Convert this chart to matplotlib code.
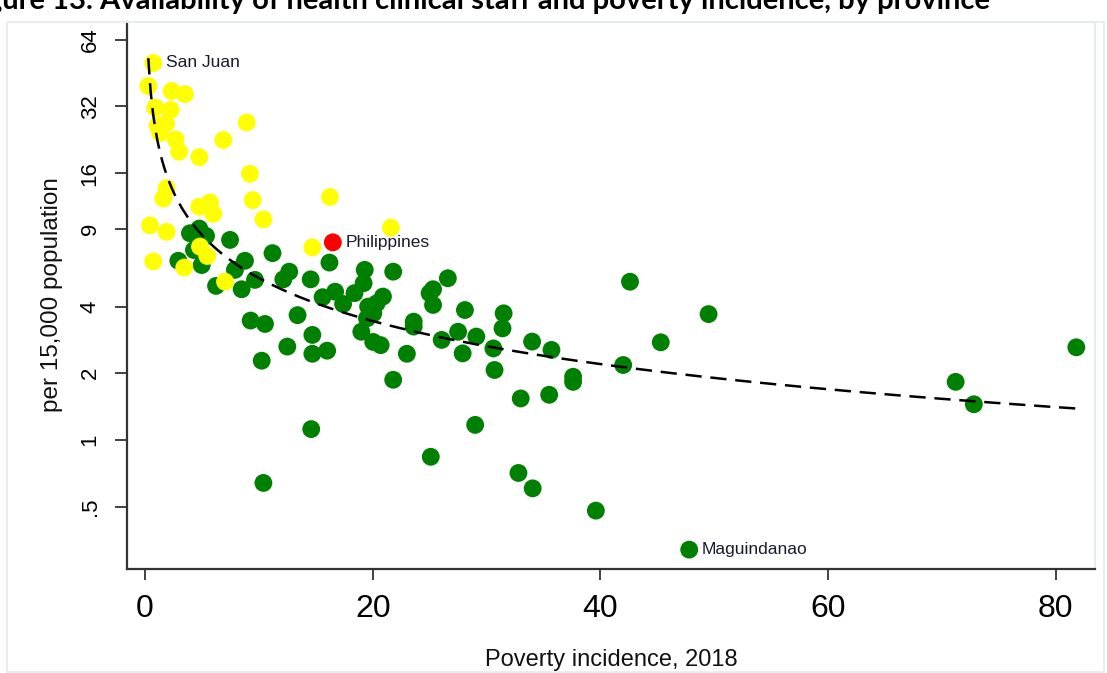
import numpy as np
import matplotlib
matplotlib.use("Agg")
import matplotlib.pyplot as plt
from matplotlib.patches import Rectangle

# ---------------- data ----------------
yellow_x = [0.73, 0.29, 2.34, 3.51, 0.9, 2.25, 1.1, 1.85, 1.32, 2.7, 3.0, 4.77, 6.88, 8.93,
            9.22, 1.9, 1.61, 4.77, 5.71, 6.0, 9.46, 10.4, 16.25, 0.44, 1.9, 21.6, 0.73,
            3.45, 4.83, 5.47, 7.03, 14.7]
yellow_y = [50.3, 39.6, 37.6, 36.4, 31.6, 30.9, 26.2, 26.8, 24.3, 22.7, 20.0, 18.9, 22.6, 27.1,
            15.9, 13.7, 12.3, 11.3, 11.8, 10.5, 12.1, 9.9, 12.5, 9.3, 8.7, 9.1, 6.4,
            6.0, 7.46, 6.77, 5.18, 7.4]

green_x = [3.95, 4.77, 5.36, 4.3, 4.98, 2.93, 7.47, 6.24, 8.78, 7.9, 8.49, 9.66, 11.2, 9.28,
           10.54, 10.25, 12.15, 12.67, 12.5, 13.4, 14.55, 14.7, 14.7, 16.0, 14.6, 10.4, 16.2,
           15.6, 16.7, 17.4, 18.4, 19.2, 19.3, 21.8, 19.6, 20.35, 20.9, 20.05, 19.5, 19.0,
           20.05, 20.7, 21.8, 23.0, 23.6, 26.6, 25.0, 25.3, 25.3, 28.1, 23.6, 26.06, 27.5,
           27.9, 29.1, 30.6, 30.7, 31.5, 31.4, 34.0, 35.7, 37.6, 37.6, 29.0, 33.0, 35.5,
           25.1, 32.8, 34.05, 39.6, 42.0, 42.6, 45.3, 49.5, 47.8, 71.2, 72.8, 81.8]
green_y = [8.57, 9.0, 8.34, 7.2, 6.16, 6.44, 8.0, 4.96, 6.44, 5.86, 4.79, 5.28, 6.97, 3.46,
           3.34, 2.28, 5.31, 5.75, 2.64, 3.66, 5.31, 2.98, 2.45, 2.53, 1.12, 0.64, 6.32,
           4.41, 4.67, 4.11, 4.6, 5.1, 5.86, 5.75, 4.0, 4.14, 4.44, 3.73, 3.54, 3.08,
           2.77, 2.68, 1.87, 2.45, 3.42, 5.37, 4.6, 4.79, 4.07, 3.86, 3.25, 2.83, 3.08,
           2.46, 2.93, 2.59, 2.07, 3.73, 3.19, 2.78, 2.55, 1.93, 1.83, 1.17, 1.54, 1.6,
           0.84, 0.71, 0.605, 0.48, 2.18, 5.18, 2.76, 3.7, 0.32, 1.83, 1.45, 2.62]

red_x = [16.5]
red_y = [7.8]

labels = ["San Juan", "Philippines", "Maguindanao"]
label_x = [0.73, 16.5, 47.8]
label_y = [50.3, 7.8, 0.32]

ytick_vals = [0.5, 1, 2, 4, 9, 16, 32, 64]
ytick_labels = [".5", "1", "2", "4", "9", "16", "32", "64"]
xtick_vals = [0, 20, 40, 60, 80]
xtick_labels = ["0", "20", "40", "60", "80"]

title = "Figure 13. Availability of health clinical staff and poverty incidence, by province"
xlabel = "Poverty incidence, 2018"
ylabel = "per 15,000 population"

# ---------------- figure ----------------
W, H = 1107, 673
fig = plt.figure(figsize=(W / 100, H / 100), dpi=100)

def fx(px):
    return px / W

def fy(py):
    return 1 - py / H

ax_l, ax_r, ax_t, ax_b = 127, 1095, 22, 569
ax = fig.add_axes([fx(ax_l), fy(ax_b), fx(ax_r - ax_l), (ax_b - ax_t) / H])

# faint outer frame (graph region)
fig.patches.append(Rectangle((fx(7), fy(672)), fx(1104 - 7), (672 - 22) / H,
                             transform=fig.transFigure, fill=False,
                             edgecolor="#e6ebf0", lw=1.2, zorder=0))

ax.set_yscale("log", base=2)
ax.set_xlim(-1.58, 83.44)
ax.set_ylim(2 ** ((440 - 569) / 66.7), 2 ** ((440 - 22) / 66.7))

msize = 165
ax.scatter(green_x, green_y, s=msize, c="#008000", edgecolors="none", zorder=2)
ax.scatter(yellow_x, yellow_y, s=msize, c="#ffff00", edgecolors="none", zorder=3)
ax.scatter(red_x, red_y, s=msize, c="#ff0000", edgecolors="none", zorder=3)

# log-log fitted curve from the provincial data
all_x = np.array(yellow_x + green_x)
all_y = np.array(yellow_y + green_y)
b, a = np.polyfit(np.log(all_x), np.log(all_y), 1)
xs = np.linspace(all_x.min(), all_x.max(), 400)
ax.plot(xs, np.exp(a) * xs ** b, color="black", lw=1.8, ls=(0, (6.5, 3.5)), zorder=4)

for t, lx, ly in zip(labels, label_x, label_y):
    ax.annotate(t, (lx, ly), xytext=(9, 0), textcoords="offset points",
                va="center", ha="left", fontsize=12.5, color="#1a1a2e",
                family=["Liberation Sans", "DejaVu Sans"], zorder=5)

ax.set_yticks(ytick_vals)
ax.set_yticklabels(ytick_labels, rotation=90, va="center",
                   family=["Liberation Sans", "DejaVu Sans"], fontsize=16)
ax.yaxis.set_minor_locator(matplotlib.ticker.NullLocator())
ax.set_xticks(xtick_vals)
ax.set_xticklabels(xtick_labels, family=["Liberation Sans Narrow", "Liberation Sans", "DejaVu Sans"],
                   fontsize=23)

ax.tick_params(axis="y", length=9, width=1.3, color="#333333", pad=10)
ax.tick_params(axis="x", length=8, width=1.3, color="#333333", pad=10)

for s in ["left", "bottom"]:
    ax.spines[s].set_color("#333333")
    ax.spines[s].set_linewidth(1.6)
for s in ["top", "right"]:
    ax.spines[s].set_color("#e3e8ee")
    ax.spines[s].set_linewidth(1.2)

fig.text(fx(611), fy(660), xlabel, ha="center", va="center", fontsize=17,
         family=["Liberation Sans Narrow", "Liberation Sans", "DejaVu Sans"], color="#111111")
fig.text(fx(52), fy(295), ylabel, ha="center", va="center", rotation=90, fontsize=17.5,
         family=["Liberation Sans", "DejaVu Sans"], color="#111111")

fig.text(fx(990), fy(9), title, ha="right", va="baseline", fontsize=21, fontweight="bold",
         family=["Lato", "Liberation Sans", "DejaVu Sans"], color="#000000")

fig.savefig("out.png", dpi=100)
